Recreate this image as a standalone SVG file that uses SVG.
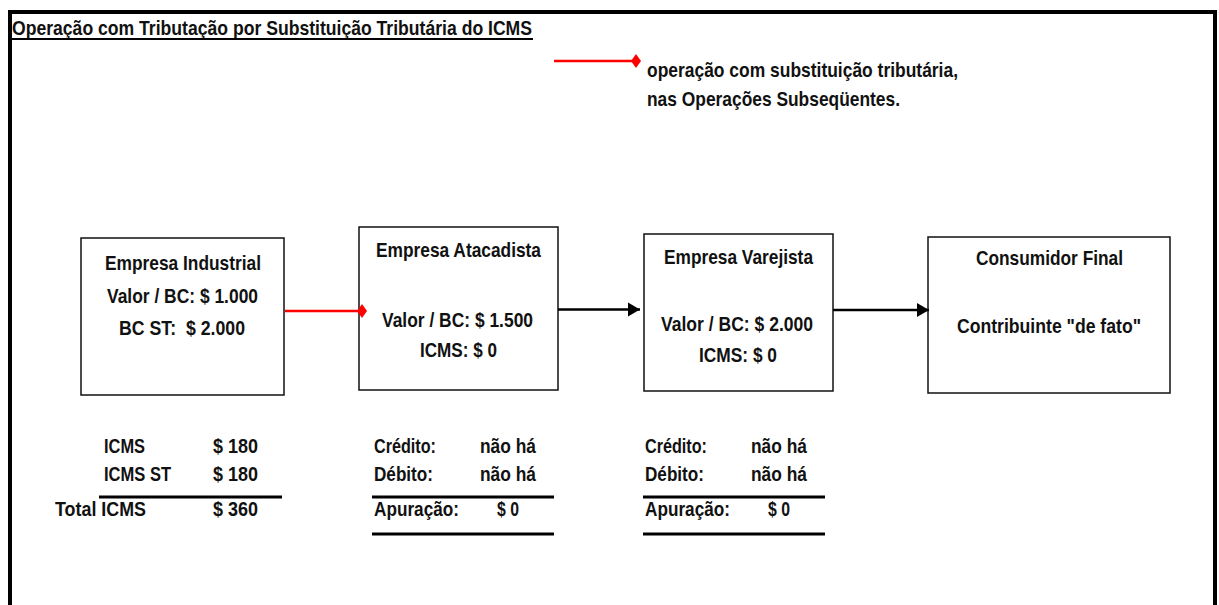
<svg xmlns="http://www.w3.org/2000/svg" width="1219" height="605" viewBox="0 0 1219 605">
<style>
  text { font-family: "Liberation Sans", Arial, sans-serif; font-weight: bold; font-size: 21px; fill: #111; white-space: pre; }
  .box { fill: #fff; stroke: #111; stroke-width: 1.5; }
  .rule { stroke: #000; stroke-width: 3; }
  .red { stroke: #ff0000; stroke-width: 2.5; fill: none; }
  .blk { stroke: #000; stroke-width: 2.5; fill: none; }
</style>
<defs>
  <marker id="diamond" markerUnits="userSpaceOnUse" markerWidth="12" markerHeight="16" viewBox="-6 -8 12 16" refX="0" refY="0" orient="auto">
    <path d="M-5,0 L0,-7 L5,0 L0,7 Z" fill="#ff0000"/>
  </marker>
  <marker id="arrow" markerUnits="userSpaceOnUse" markerWidth="14" markerHeight="16" viewBox="-13 -8 14 16" refX="0" refY="0" orient="auto">
    <path d="M-12,-7 L0,0 L-12,7 Z" fill="#000"/>
  </marker>
</defs>
<rect width="1219" height="605" fill="#fff"/>
<rect id="frame" x="10" y="12" width="1205" height="700" fill="none" stroke="#000" stroke-width="4"/>

<g id="title">
  <text x="12" y="35" textLength="520" lengthAdjust="spacingAndGlyphs">Operação com Tributação por Substituição Tributária do ICMS</text>
  <line x1="11" y1="39" x2="533" y2="39" stroke="#000" stroke-width="2"/>
</g>

<g id="legend">
  <line class="red" x1="554" y1="61" x2="636" y2="61" marker-end="url(#diamond)"/>
  <text x="647" y="77" textLength="311" lengthAdjust="spacingAndGlyphs">operação com substituição tributária,</text>
  <text x="647" y="106" textLength="253" lengthAdjust="spacingAndGlyphs">nas Operações Subseqüentes.</text>
</g>

<g id="node-industrial">
  <rect class="box" x="81" y="238" width="203" height="157"/>
  <text x="105" y="270" textLength="156" lengthAdjust="spacingAndGlyphs">Empresa Industrial</text>
  <text x="107" y="303" textLength="151" lengthAdjust="spacingAndGlyphs">Valor / BC: $ 1.000</text>
  <text x="119" y="335" textLength="126" lengthAdjust="spacingAndGlyphs">BC ST:  $ 2.000</text>
</g>

<g id="node-atacadista">
  <rect class="box" x="359" y="227" width="199" height="163"/>
  <text x="376" y="257" textLength="165" lengthAdjust="spacingAndGlyphs">Empresa Atacadista</text>
  <text x="382" y="327" textLength="151" lengthAdjust="spacingAndGlyphs">Valor / BC: $ 1.500</text>
  <text x="420" y="357" textLength="77" lengthAdjust="spacingAndGlyphs">ICMS: $ 0</text>
</g>

<g id="node-varejista">
  <rect class="box" x="644" y="234" width="189" height="157"/>
  <text x="664" y="264" textLength="149" lengthAdjust="spacingAndGlyphs">Empresa Varejista</text>
  <text x="661" y="331" textLength="152" lengthAdjust="spacingAndGlyphs">Valor / BC: $ 2.000</text>
  <text x="699" y="362" textLength="78" lengthAdjust="spacingAndGlyphs">ICMS: $ 0</text>
</g>

<g id="node-consumidor">
  <rect class="box" x="928" y="237" width="242" height="156"/>
  <text x="976" y="265" textLength="147" lengthAdjust="spacingAndGlyphs">Consumidor Final</text>
  <text x="957" y="333" textLength="184" lengthAdjust="spacingAndGlyphs">Contribuinte "de fato"</text>
</g>

<g id="connectors">
  <line class="red" x1="285" y1="311" x2="362" y2="311" marker-end="url(#diamond)"/>
  <line class="blk" x1="558" y1="309.5" x2="640" y2="309.5" marker-end="url(#arrow)"/>
  <line class="blk" x1="833" y1="310" x2="929" y2="310" marker-end="url(#arrow)"/>
</g>

<g id="table-industrial">
  <text x="104" y="453" textLength="41" lengthAdjust="spacingAndGlyphs">ICMS</text>
  <text x="213" y="453" textLength="45" lengthAdjust="spacingAndGlyphs">$ 180</text>
  <text x="104" y="481" textLength="67" lengthAdjust="spacingAndGlyphs">ICMS ST</text>
  <text x="213" y="481" textLength="45" lengthAdjust="spacingAndGlyphs">$ 180</text>
  <line class="rule" x1="99" y1="497" x2="282" y2="497"/>
  <text x="55" y="516" textLength="91" lengthAdjust="spacingAndGlyphs">Total ICMS</text>
  <text x="213" y="516" textLength="45" lengthAdjust="spacingAndGlyphs">$ 360</text>
</g>

<g id="table-atacadista">
  <text x="374" y="453" textLength="62" lengthAdjust="spacingAndGlyphs">Crédito:</text>
  <text x="480" y="453" textLength="56" lengthAdjust="spacingAndGlyphs">não há</text>
  <text x="374" y="481" textLength="59" lengthAdjust="spacingAndGlyphs">Débito:</text>
  <text x="480" y="481" textLength="56" lengthAdjust="spacingAndGlyphs">não há</text>
  <line class="rule" x1="372" y1="497" x2="554" y2="497"/>
  <text x="374" y="516" textLength="85" lengthAdjust="spacingAndGlyphs">Apuração:</text>
  <text x="497" y="516" textLength="22" lengthAdjust="spacingAndGlyphs">$ 0</text>
  <line class="rule" x1="372" y1="534" x2="554" y2="534"/>
</g>

<g id="table-varejista">
  <text x="645" y="453" textLength="62" lengthAdjust="spacingAndGlyphs">Crédito:</text>
  <text x="751" y="453" textLength="56" lengthAdjust="spacingAndGlyphs">não há</text>
  <text x="645" y="481" textLength="59" lengthAdjust="spacingAndGlyphs">Débito:</text>
  <text x="751" y="481" textLength="56" lengthAdjust="spacingAndGlyphs">não há</text>
  <line class="rule" x1="643" y1="497" x2="825" y2="497"/>
  <text x="645" y="516" textLength="85" lengthAdjust="spacingAndGlyphs">Apuração:</text>
  <text x="768" y="516" textLength="22" lengthAdjust="spacingAndGlyphs">$ 0</text>
  <line class="rule" x1="643" y1="534" x2="825" y2="534"/>
</g>
</svg>
